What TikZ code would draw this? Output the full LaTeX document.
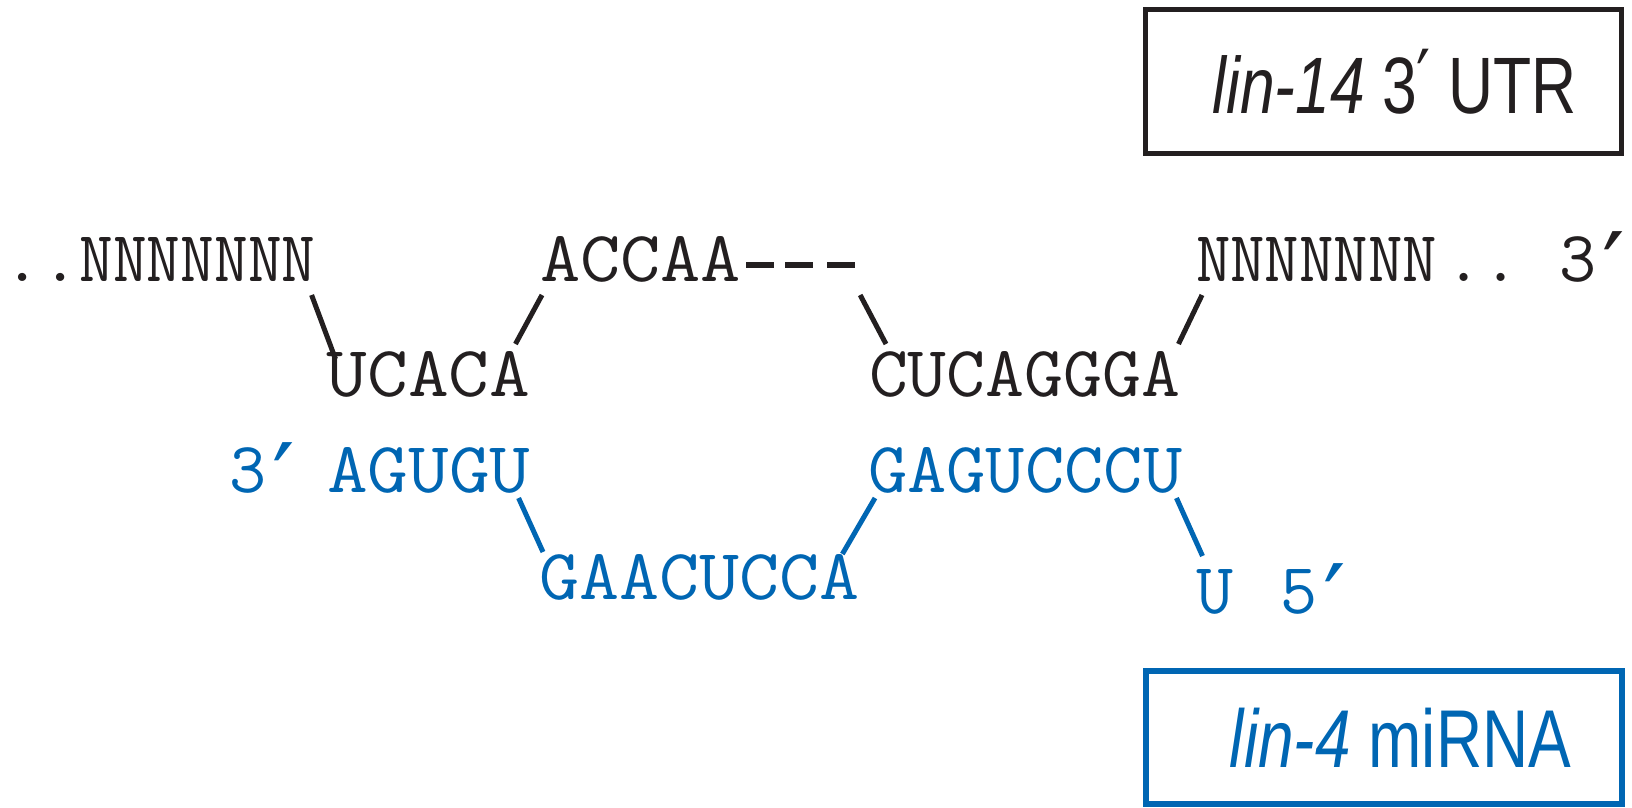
\documentclass[tikz,border=0pt]{standalone}
\usepackage{fontspec}
\usepackage{graphicx}
\newfontfamily\lblfont{Liberation Sans}
\newfontfamily\primefont{DejaVu Sans}
\definecolor{ink}{HTML}{231F20}
\definecolor{mirblue}{HTML}{0066B3}
% horizontal squeeze/stretch of a piece of text
\newcommand{\hsq}[2]{\scalebox{#1}[1]{#2}}
% one dash of the unpaired gap in the target strand
\newcommand{\gapdash}{\rule[13pt]{28pt}{6pt}}
% prime after a strand end number
\newcommand{\seqprime}{\hspace{6pt}\raisebox{-23pt}{\fontsize{100}{100}\selectfont\primefont ′}}
\newcommand{\lblprime}{\raisebox{6pt}{\primefont ′}}

\begin{document}
\begin{tikzpicture}[x=1pt,y=-1pt,
  seq/.style={inner sep=0pt, outer sep=0pt, anchor=base west,
              font=\fontsize{72}{80}\selectfont\ttfamily\addfontfeatures{FakeBold=2}},
  utr/.style={seq, text=ink},
  mir/.style={seq, text=mirblue},
  utrlink/.style={draw=ink, line width=5pt},
  mirlink/.style={draw=mirblue, line width=5pt},
  utrbox/.style={draw=ink, line width=5pt, minimum width=476pt,
                 minimum height=144pt, inner sep=0pt, text=ink,
                 font=\lblfont\fontsize{80}{90}\selectfont},
  mirbox/.style={draw=mirblue, line width=6pt, minimum width=476pt,
                 minimum height=133pt, inner sep=0pt, text=mirblue,
                 font=\lblfont\fontsize{82}{90}\selectfont}]
\useasboundingbox (0,0) rectangle (1632,807);

% legend boxes
\node[utrbox] (utrlabel) at (1383.5,81.5)
  {\hspace*{22pt}\hsq{0.78}{\textit{lin-14} 3\lblprime\ UTR}};
\node[mirbox] (mirlabel) at (1384,737.5)
  {\hspace*{33pt}\hsq{0.78}{\textit{lin-4} miRNA}};

% lin-14 3' UTR strand (black)
\node[utr] (utrA) at (3,281) {\hsq{1.03}{..}\hsq{0.91}{NNNNNNN}};
\node[utr] (utrB) at (326.5,396) {\hsq{1.10}{UCACA}};
\node[utr] (utrC) at (540,281)
  {\hsq{1.085}{ACCAA}\hspace{5pt}\gapdash\hspace{11pt}\gapdash\hspace{14pt}\gapdash};
\node[utr] (utrD) at (869,396) {\hsq{1.05}{CUCAGGGA}};
\node[utr] (utrE) at (1196,281) {\hsq{0.93}{NNNNNNN}\hspace{8pt}..\hspace{40pt}3\seqprime};

% lin-4 miRNA strand (blue)
\node[mir] (mirEnd3) at (229,492) {3\seqprime};
\node[mir] (mirA) at (327,492) {\hsq{1.098}{AGUGU}};
\node[mir] (mirB) at (539,599) {\hsq{1.08}{GAACUCCA}};
\node[mir] (mirC) at (868,492) {\hsq{1.06}{GAGUCCCU}};
\node[mir] (mirD) at (1196.5,613) {U\hspace{47pt}5\seqprime};

% backbone links of the UTR strand
\draw[utrlink] ([shift={(-4,14)}]utrA.base east) -- ([shift={(9,-37)}]utrB.base west);
\draw[utrlink] ([shift={(-15,-52)}]utrB.base east) -- ([shift={(2,14)}]utrC.base west);
\draw[utrlink] ([shift={(5,14)}]utrC.base east) -- ([shift={(17,-52)}]utrD.base west);
\draw[utrlink] ([shift={(-2,-52)}]utrD.base east) -- ([shift={(6,14)}]utrE.base west);

% backbone links of the miRNA strand
\draw[mirlink] ([shift={(-12,6)}]mirA.base east) -- ([shift={(4,-47)}]mirB.base west);
\draw[mirlink] ([shift={(7,6)}]mirC.base west) -- ([shift={(-17,-45)}]mirB.base east);
\draw[mirlink] ([shift={(-6,6)}]mirC.base east) -- ([shift={(6,-57)}]mirD.base west);
\end{tikzpicture}
\end{document}
